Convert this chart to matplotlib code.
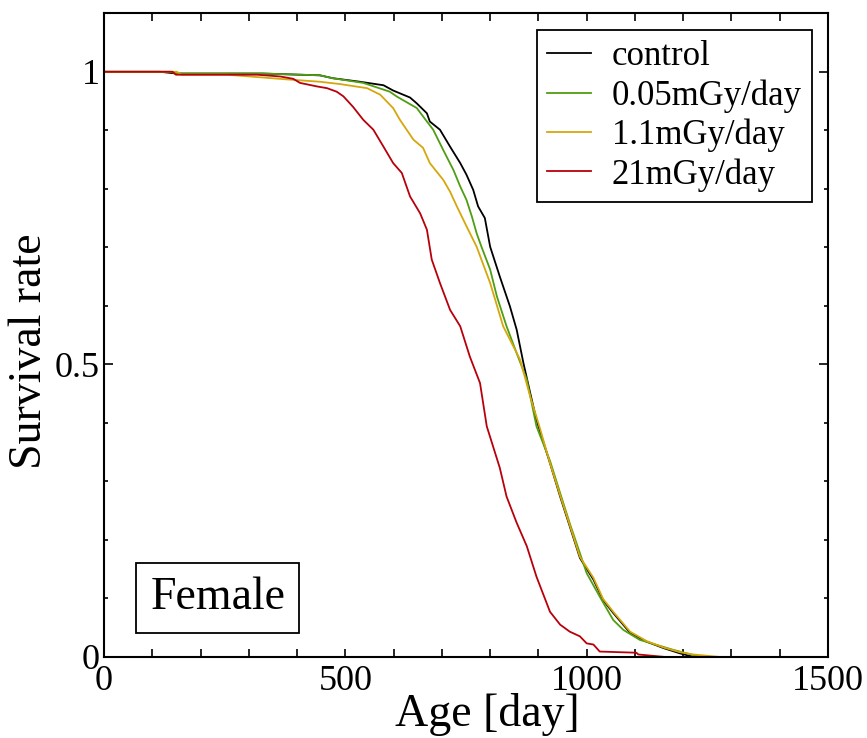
import matplotlib
matplotlib.use("Agg")
from matplotlib import pyplot as plt
from matplotlib.ticker import MultipleLocator

plt.rcParams['font.family'] = ['Liberation Serif', 'DejaVu Serif']

# survival curves (age in days, fraction alive)
age_control = [0, 116, 150, 329, 406, 447, 474, 530, 579, 599,
               634, 648, 669, 675, 696, 717, 738, 751, 765, 775,
               789, 800, 820, 841, 855, 869, 883, 896, 924, 945,
               965, 986, 1014, 1034, 1055, 1090, 1124, 1159, 1193, 1221]
surv_control = [1.0, 1.0, 0.997, 0.997, 0.995, 0.994, 0.989, 0.983, 0.977, 0.968,
                0.956, 0.946, 0.929, 0.915, 0.901, 0.872, 0.844, 0.824, 0.798, 0.770,
                0.750, 0.701, 0.650, 0.599, 0.559, 0.502, 0.451, 0.405, 0.331, 0.274,
                0.223, 0.169, 0.132, 0.097, 0.075, 0.041, 0.026, 0.015, 0.006, 0.0]

age_005 = [0, 137, 150, 329, 406, 447, 474, 537, 592, 606,
           648, 669, 682, 703, 724, 738, 751, 762, 772, 782,
           800, 814, 834, 855, 876, 896, 924, 945, 965, 986,
           1000, 1027, 1055, 1076, 1110, 1179, 1221, 1235]
surv_005 = [1.0, 1.0, 0.997, 0.997, 0.995, 0.994, 0.989, 0.981, 0.966, 0.958,
            0.938, 0.915, 0.901, 0.866, 0.832, 0.804, 0.781, 0.753, 0.724, 0.701,
            0.662, 0.616, 0.565, 0.519, 0.474, 0.394, 0.335, 0.280, 0.228, 0.177,
            0.143, 0.103, 0.063, 0.046, 0.029, 0.012, 0.003, 0.0]

age_11 = [0, 151, 160, 255, 317, 379, 447, 489, 545, 572,
          599, 613, 641, 661, 675, 703, 717, 731, 751, 772,
          800, 827, 862, 883, 903, 924, 945, 965, 986, 1014,
          1034, 1055, 1090, 1124, 1159, 1193, 1221, 1273]
surv_11 = [1.0, 1.0, 0.995, 0.995, 0.991, 0.987, 0.983, 0.979, 0.972, 0.961,
           0.938, 0.918, 0.884, 0.870, 0.844, 0.815, 0.795, 0.770, 0.736, 0.701,
           0.639, 0.565, 0.508, 0.445, 0.391, 0.331, 0.276, 0.225, 0.171, 0.135,
           0.099, 0.077, 0.043, 0.027, 0.016, 0.008, 0.004, 0.0]

age_21 = [0, 142, 149, 317, 365, 392, 406, 441, 462, 482,
          496, 516, 537, 558, 579, 599, 617, 634, 655, 669,
          679, 696, 717, 738, 758, 779, 793, 820, 834, 855,
          876, 896, 924, 945, 965, 986, 1000, 1014, 1027, 1103,
          1107, 1159]
surv_21 = [1.0, 1.0, 0.995, 0.995, 0.992, 0.988, 0.981, 0.975, 0.972, 0.966,
           0.958, 0.940, 0.918, 0.901, 0.872, 0.844, 0.827, 0.787, 0.758, 0.730,
           0.679, 0.639, 0.593, 0.565, 0.513, 0.468, 0.394, 0.323, 0.274, 0.229,
           0.189, 0.137, 0.077, 0.055, 0.043, 0.035, 0.023, 0.021, 0.009, 0.007,
           0.004, 0.0]

series = [
    (age_control, surv_control, "control", "black"),
    (age_005, surv_005, "0.05mGy/day", "#4f9e12"),
    (age_11, surv_11, "1.1mGy/day", "#d6a70c"),
    (age_21, surv_21, "21mGy/day", "#b8000b"),
]

fig = plt.figure(figsize=(8.67, 7.38), dpi=100)
ax = fig.add_axes([0.12, 0.11, 0.835, 0.872])

for x, y, nome, cor in series:
    ax.plot(x, y, color=cor, lw=1.3, label=nome)

ax.set_xlim(0, 1500)
ax.set_ylim(0, 1.1)
ax.xaxis.set_minor_locator(MultipleLocator(100))
ax.yaxis.set_minor_locator(MultipleLocator(0.1))
ax.set_xticks([0, 500, 1000, 1500])
ax.set_xticklabels(["0", "500", "1000", "1500"])
ax.set_yticks([0, 0.5, 1])
ax.set_yticklabels(["0", "0.5", "1"])

ax.tick_params(which='both', direction='in', top=True, right=True, width=1.2,
               labelsize=26)
ax.tick_params(axis='x', which='both', length=6, pad=6)
ax.tick_params(axis='y', which='major', length=6.5, pad=3)
ax.tick_params(axis='y', which='minor', length=3.2)
for s in ax.spines.values():
    s.set_linewidth(1.5)

# rotulo do eixo x encostado na borda de baixo
ax.set_xlabel("Age [day]", fontsize=33, va='bottom')
ax.xaxis.set_label_coords(0.529, -0.1235)
ax.set_ylabel("Survival rate", fontsize=33, va='center')
ax.yaxis.set_label_coords(-0.102, 0.475)

leg = ax.legend(loc='upper right', bbox_to_anchor=(0.978, 0.974), borderaxespad=0,
                fontsize=25, fancybox=False, edgecolor='black', framealpha=1,
                handlelength=1.25, handletextpad=0.6, labelspacing=0.17,
                borderpad=0.3)
leg.get_frame().set_linewidth(1.3)

ax.text(0.157, 0.092, "Female", transform=ax.transAxes, fontsize=33,
        ha='center', va='center',
        bbox=dict(boxstyle='square,pad=0.3', facecolor='white',
                  edgecolor='black', lw=1.3))

plt.savefig("out.png", dpi=100)
